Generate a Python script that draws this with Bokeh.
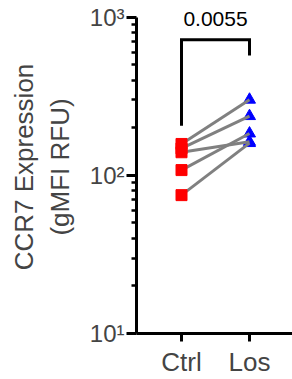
from bokeh.plotting import figure
from bokeh.models import FixedTicker, Range1d
from bokeh.embed import file_html
from bokeh.resources import INLINE
from bokeh.core.properties import value

# ---- data ----
groups = ["Ctrl", "Los"]
group_pos = [1, 2]
ctrl = [158, 148, 140, 108, 75]
los = [301, 237, 163, 184, 160]
p_text = "0.0055"
bracket_top = 721
bracket_left_bottom = 206
bracket_right_bottom = 573
p_text_y = 976
y_ticks = [10, 100, 1000]
y_tick_labels = ["10\u00b9", "10\u00b2", "10\u00b3"]
y_minor = [m * 10 ** k for k in (1, 2) for m in range(2, 10)]

FONT = "Liberation Sans"

p = figure(width=292, height=379, y_axis_type="log",
           x_range=Range1d(1 - 45 / 68, 1 + 111 / 68),
           y_range=Range1d(10, 1276),
           output_backend="svg", toolbar_location=None,
           min_border_left=136, min_border_right=0,
           min_border_top=0, min_border_bottom=41)
p.outline_line_color = None
p.xgrid.visible = False
p.ygrid.visible = False
p.background_fill_color = "white"
p.border_fill_color = "white"

# paired lines
xs = [[group_pos[0], group_pos[1]] for _ in ctrl]
ys = [[c, l] for c, l in zip(ctrl, los)]

p.scatter([group_pos[1]] * len(los), los, marker="triangle", size=12,
          fill_color="#0000FF", line_color="#0000FF")
p.multi_line(xs, ys, line_color="#808080", line_width=3)
p.scatter([group_pos[0]] * len(ctrl), ctrl, marker="square", size=11,
          fill_color="#FF0000", line_color="#FF0000")

# significance bracket
p.line([group_pos[0], group_pos[0], group_pos[1], group_pos[1]],
       [bracket_left_bottom, bracket_top, bracket_top, bracket_right_bottom],
       line_color="black", line_width=3, line_join="miter")
p.text([(group_pos[0] + group_pos[1]) / 2], [p_text_y], text=[p_text],
       text_align="center", text_baseline="alphabetic",
       text_font=value(FONT), text_font_size="21px", text_color="black")

# y axis
ya = p.yaxis[0]
ya.ticker = FixedTicker(ticks=y_ticks, minor_ticks=y_minor)
ya.major_label_overrides = {t: lab for t, lab in zip(y_ticks, y_tick_labels)}
ya.bounds = (y_ticks[0], y_ticks[-1])
ya.axis_label = "CCR7 Expression\n(gMFI RFU)"
ya.axis_label_text_font = FONT
ya.axis_label_text_font_size = "26px"
ya.axis_label_text_font_style = "normal"
ya.axis_label_text_line_height = 1.2
ya.axis_label_standoff = 12
ya.major_label_text_font = FONT
ya.major_label_text_font_size = "24px"
ya.major_label_standoff = 2
ya.axis_line_width = 3
ya.major_tick_line_width = 3
ya.minor_tick_line_width = 2.5
ya.major_tick_out = 10
ya.major_tick_in = 0
ya.minor_tick_out = 5
ya.minor_tick_in = 0
ya.axis_line_color = "black"
ya.major_tick_line_color = "black"
ya.minor_tick_line_color = "black"

# x axis
xa = p.xaxis[0]
xa.ticker = FixedTicker(ticks=group_pos, minor_ticks=[])
xa.major_label_overrides = {g: lab for g, lab in zip(group_pos, groups)}
xa.major_label_text_font = FONT
xa.major_label_text_font_size = "26px"
xa.major_label_standoff = 5
xa.axis_line_width = 3
xa.major_tick_line_width = 3
xa.major_tick_out = 8
xa.major_tick_in = 0
xa.minor_tick_line_color = None
xa.axis_line_color = "black"
xa.major_tick_line_color = "black"

open("out.html", "w").write(file_html(p, INLINE))
